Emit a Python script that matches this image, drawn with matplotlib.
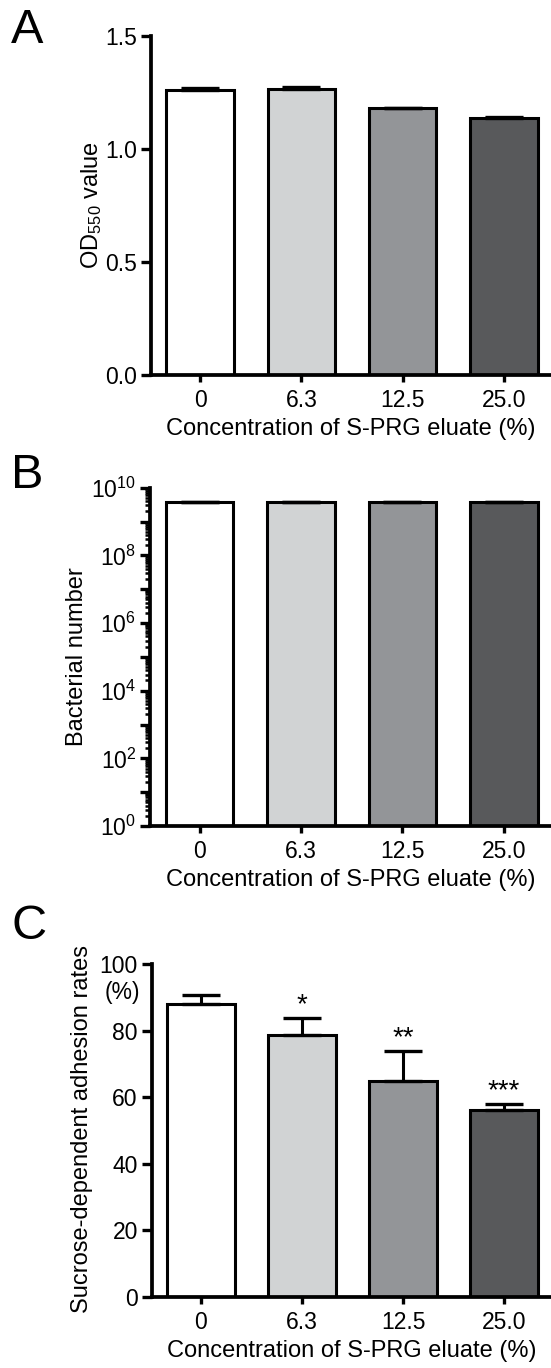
import numpy as np
import matplotlib
matplotlib.use("Agg")
import matplotlib.pyplot as plt
from matplotlib.ticker import LogLocator, FuncFormatter, NullFormatter

plt.rcParams["font.family"] = ["Liberation Sans", "DejaVu Sans"]
plt.rcParams["mathtext.fontset"] = "custom"
plt.rcParams["mathtext.rm"] = "Liberation Sans"
plt.rcParams["mathtext.it"] = "Liberation Sans:italic"

# data
CONC = ["0", "6.3", "12.5", "25.0"]
COLORS = ["#ffffff", "#d1d3d4", "#939598", "#58595b"]

OD550 = [1.260, 1.266, 1.179, 1.138]
OD550_SD = [0.008, 0.010, 0.004, 0.004]

BACT = [3.7e9, 3.7e9, 3.7e9, 3.75e9]
BACT_SD = [0.05e9, 0.05e9, 0.06e9, 0.12e9]

ADH = [88.2, 78.8, 65.0, 56.2]
ADH_SD = [2.6, 5.0, 8.9, 1.8]
ADH_SIG = ["", "*", "**", "***"]

XLABEL = "Concentration of S-PRG eluate (%)"
TICK_FS = 16.5
LABEL_FS = 17
LW_AX = 2.7


def style_axes(ax):
    for s in ("top", "right"):
        ax.spines[s].set_visible(False)
    for s in ("left", "bottom"):
        ax.spines[s].set_linewidth(LW_AX)
    ax.tick_params(axis="x", which="major", length=5.3, width=2.4,
                   labelsize=TICK_FS, pad=5)
    ax.tick_params(axis="y", which="major", length=7, width=2.4,
                   labelsize=TICK_FS, pad=3)
    ax.tick_params(axis="y", which="minor", length=3.8, width=1.8)


def bars(ax, vals, sd):
    x = np.arange(len(vals))
    ax.bar(x, vals, width=0.666, color=COLORS, edgecolor="black",
           linewidth=2.2, zorder=2)
    ax.errorbar(x, vals, yerr=[np.zeros(len(sd)), sd], fmt="none",
                ecolor="black", elinewidth=2.2, capsize=13.5, capthick=2.4,
                zorder=3)
    ax.set_xticks(x)
    ax.set_xticklabels(CONC)
    ax.set_xlabel(XLABEL, fontsize=LABEL_FS, labelpad=4)
    ax.set_xlim(-0.487, 3.464)
    return x


fig = plt.figure(figsize=(5.51, 13.68), dpi=100)

# panel A
axA = fig.add_axes([0.2735, 0.7261, 0.7265, 0.2476])
bars(axA, OD550, OD550_SD)
axA.set_ylim(0, 1.5)
axA.set_yticks([0.0, 0.5, 1.0, 1.5])
axA.set_yticklabels(["0.0", "0.5", "1.0", "1.5"])
axA.set_ylabel(r"OD$\mathregular{_{550}}$ value", fontsize=LABEL_FS)
axA.yaxis.set_label_coords(-0.117, 0.5)
style_axes(axA)

# panel B
axB = fig.add_axes([0.2725, 0.3962, 0.7275, 0.2473])
bars(axB, BACT, BACT_SD)
axB.set_yscale("log")
axB.set_ylim(1, 1e10)
axB.yaxis.set_major_locator(LogLocator(base=10, numticks=20))
axB.yaxis.set_major_formatter(FuncFormatter(
    lambda v, p: r"$\mathregular{10^{%d}}$" % round(np.log10(v))
    if round(np.log10(v)) % 2 == 0 else ""))
axB.yaxis.set_minor_locator(LogLocator(base=10, subs=np.arange(2, 10), numticks=20))
axB.yaxis.set_minor_formatter(NullFormatter())
axB.set_ylabel("Bacterial number", fontsize=LABEL_FS)
axB.yaxis.set_label_coords(-0.155, 0.5)
style_axes(axB)

# panel C
axC = fig.add_axes([0.2753, 0.0521, 0.7247, 0.2430])
x = bars(axC, ADH, ADH_SD)
axC.set_ylim(0, 100)
axC.set_yticks([0, 20, 40, 60, 80, 100])
axC.set_ylabel("Sucrose-dependent adhesion rates", fontsize=LABEL_FS)
axC.yaxis.set_label_coords(-0.147, 0.505)
for xi, v, s, lab in zip(x, ADH, ADH_SD, ADH_SIG):
    if lab:
        axC.text(xi, v + s, lab, ha="center", va="bottom", fontsize=20)
fig.text(122 / 551, 1 - 992 / 1368, "(%)", ha="center", va="center",
         fontsize=TICK_FS)
style_axes(axC)

# panel letters
for lab, yy in (("A", 8), ("B", 453), ("C", 904)):
    fig.text(11 / 551, 1 - yy / 1368, lab, ha="left", va="top", fontsize=35)

fig.savefig("out.png", dpi=100)
